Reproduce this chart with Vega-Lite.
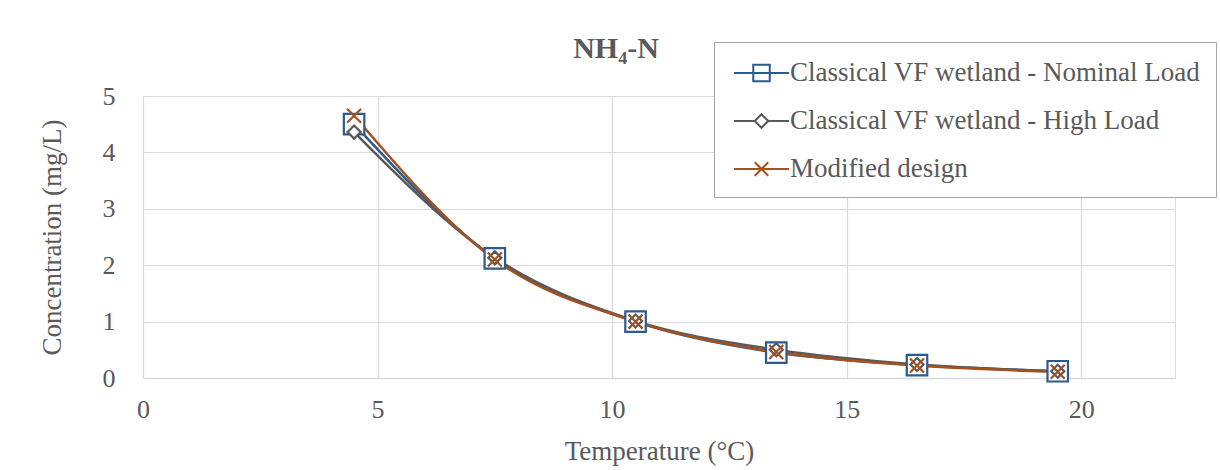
{
  "$schema": "https://vega.github.io/schema/vega-lite/v6.json",
  "autosize": {"type": "none"},
  "width": 1032,
  "height": 282,
  "padding": {"left": 143, "top": 96, "right": 45, "bottom": 92},
  "background": "white",
  "title": {
    "text": "NH₄-N",
    "font": "Liberation Serif",
    "fontSize": 30,
    "fontWeight": "bold",
    "color": "#595959",
    "anchor": "middle",
    "dx": -43,
    "offset": -22
  },
  "data": {
    "values": [
      {"series": "Classical VF wetland - Nominal Load", "temp": 4.5, "conc": 4.5},
      {"series": "Classical VF wetland - Nominal Load", "temp": 7.5, "conc": 2.12},
      {"series": "Classical VF wetland - Nominal Load", "temp": 10.5, "conc": 1.0},
      {"series": "Classical VF wetland - Nominal Load", "temp": 13.5, "conc": 0.45},
      {"series": "Classical VF wetland - Nominal Load", "temp": 16.5, "conc": 0.23},
      {"series": "Classical VF wetland - Nominal Load", "temp": 19.5, "conc": 0.12},
      {"series": "Classical VF wetland - High Load", "temp": 4.5, "conc": 4.36},
      {"series": "Classical VF wetland - High Load", "temp": 7.5, "conc": 2.13},
      {"series": "Classical VF wetland - High Load", "temp": 10.5, "conc": 1.01},
      {"series": "Classical VF wetland - High Load", "temp": 13.5, "conc": 0.5},
      {"series": "Classical VF wetland - High Load", "temp": 16.5, "conc": 0.24},
      {"series": "Classical VF wetland - High Load", "temp": 19.5, "conc": 0.12},
      {"series": "Modified design", "temp": 4.5, "conc": 4.65},
      {"series": "Modified design", "temp": 7.5, "conc": 2.1},
      {"series": "Modified design", "temp": 10.5, "conc": 1.0},
      {"series": "Modified design", "temp": 13.5, "conc": 0.46},
      {"series": "Modified design", "temp": 16.5, "conc": 0.22},
      {"series": "Modified design", "temp": 19.5, "conc": 0.11}
    ]
  },
  "encoding": {
    "x": {
      "field": "temp", "type": "quantitative",
      "scale": {"domain": [0, 22], "nice": false},
      "axis": {
        "title": "Temperature (°C)",
        "values": [0, 5, 10, 15, 20],
        "grid": true, "gridColor": "#D9D9D9", "gridWidth": 1.2,
        "domainColor": "#D9D9D9", "domainWidth": 1.5,
        "ticks": false, "labelFlush": false,
        "labelFont": "Liberation Serif", "labelFontSize": 26, "labelColor": "#595959", "labelPadding": 18,
        "titleFont": "Liberation Serif", "titleFontSize": 27, "titleFontWeight": "normal", "titleColor": "#595959", "titlePadding": 16
      }
    },
    "y": {
      "field": "conc", "type": "quantitative",
      "scale": {"domain": [0, 5], "nice": false},
      "axis": {
        "title": "Concentration (mg/L)",
        "values": [0, 1, 2, 3, 4, 5],
        "grid": true, "gridColor": "#D9D9D9", "gridWidth": 1.2,
        "domain": false, "ticks": false, "labelFlush": false,
        "labelFont": "Liberation Serif", "labelFontSize": 26, "labelColor": "#595959", "labelPadding": 28,
        "titleFont": "Liberation Serif", "titleFontSize": 27, "titleFontWeight": "normal", "titleColor": "#595959", "titlePadding": 36
      }
    },
    "color": {
      "field": "series", "type": "nominal",
      "scale": {
        "domain": ["Classical VF wetland - Nominal Load", "Classical VF wetland - High Load", "Modified design"],
        "range": ["#2B5A8C", "#595959", "#A5501F"]
      },
      "legend": {
        "title": null,
        "orient": "none",
        "legendX": 571,
        "legendY": -54,
        "direction": "vertical",
        "padding": 15,
        "strokeColor": "#A6A6A6",
        "fillColor": "white",
        "cornerRadius": 0,
        "symbolSize": 900,
        "symbolStrokeWidth": 2,
        "symbolOpacity": 1,
        "symbolFillColor": "white",
        "labelOffset": 29,
        "rowPadding": 19,
        "labelFont": "Liberation Serif",
        "labelFontSize": 27,
        "labelColor": "#595959",
        "labelLimit": 600
      }
    }
  },
  "layer": [
    {
      "mark": {"type": "line", "interpolate": "monotone", "strokeWidth": 2.5}
    },
    {
      "mark": {"type": "point", "filled": false, "opacity": 0},
      "encoding": {
        "shape": {
          "field": "series", "type": "nominal",
          "scale": {
            "domain": ["Classical VF wetland - Nominal Load", "Classical VF wetland - High Load", "Modified design"],
            "range": [
              "M-0.73,0L0.55,0M1.65,0L2.93,0M0.55,-0.55L1.65,-0.55L1.65,0.55L0.55,0.55ZM0.55,0L1.65,0",
              "M-0.73,0L0.65,0M1.55,0L2.93,0M1.1,-0.45L1.55,0L1.1,0.45L0.65,0Z",
              "M-0.73,0L2.93,0M0.65,-0.45L1.55,0.45M0.65,0.45L1.55,-0.45"
            ]
          },
          "legend": {
            "title": null,
            "orient": "none",
            "legendX": 571,
            "legendY": -54,
            "direction": "vertical",
            "padding": 15,
            "strokeColor": "#A6A6A6",
            "fillColor": "white",
            "cornerRadius": 0,
            "symbolSize": 900,
            "symbolStrokeWidth": 2,
            "symbolOpacity": 1,
            "symbolFillColor": "white",
            "labelOffset": 29,
            "rowPadding": 19,
            "labelFont": "Liberation Serif",
            "labelFontSize": 27,
            "labelColor": "#595959",
            "labelLimit": 600
          }
        }
      }
    },
    {
      "transform": [{"filter": "datum.series === 'Classical VF wetland - Nominal Load'"}],
      "mark": {"type": "point", "shape": "square", "size": 420, "filled": false, "strokeWidth": 2.2, "opacity": 1, "fill": "white", "fillOpacity": 1}
    },
    {
      "transform": [{"filter": "datum.series === 'Classical VF wetland - High Load'"}],
      "mark": {"type": "point", "shape": "diamond", "size": 170, "filled": false, "strokeWidth": 2.2, "opacity": 1, "fill": "white", "fillOpacity": 1}
    },
    {
      "transform": [{"filter": "datum.series === 'Modified design'"}],
      "mark": {"type": "point", "shape": "M-1,-1L1,1M-1,1L1,-1", "size": 196, "filled": false, "strokeWidth": 2.2, "opacity": 1}
    }
  ]
}
